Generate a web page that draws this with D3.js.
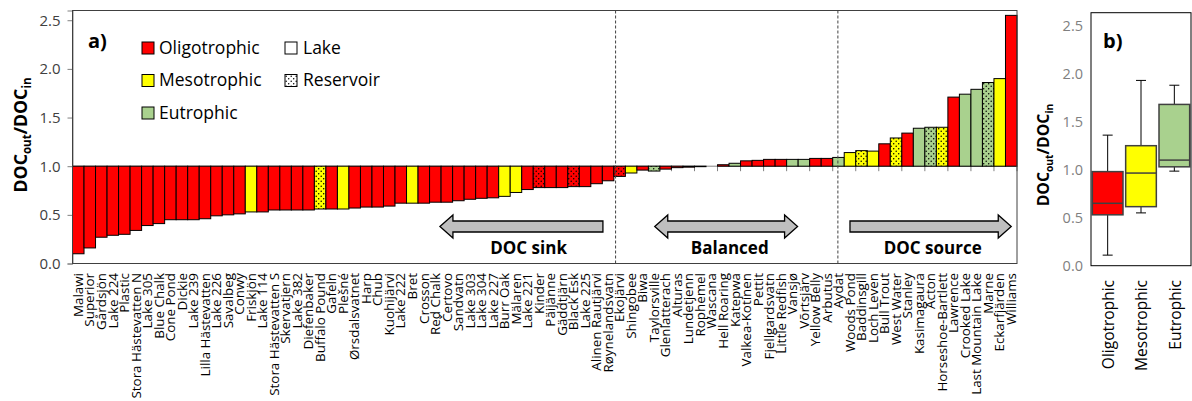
<!DOCTYPE html>
<html>
<head>
<meta charset="utf-8">
<script src="https://d3js.org/d3.v7.min.js"></script>
<style>
  body { margin: 0; background: #fff; }
  svg { display: block; font-family: "Open Sans", sans-serif; }
</style>
</head>
<body>
<div id="chart"></div>
<script>
// lakes sorted by DOC_out / DOC_in
const lakes = ["Malawi","Superior","Gårdsjön","Lake 224","Plastic","Stora Hästevatten N","Lake 305","Blue Chalk",
  "Cone Pond","Dickie","Lake 239","Lilla Hästevatten","Lake 226","Savalbeg","Conwy","Friskjön","Lake 114",
  "Stora Hästevatten S","Skervatjern","Lake 382","Diefenbaker","Buffalo Pound","Gafeln","Plešné","Ørsdalsvatnet",
  "Harp","Chub","Kuohijärvi","Lake 222","Bret","Crosson","Red Chalk","Čertovo","Sandvatn","Lake 303","Lake 304",
  "Lake 227","Burr Oak","Mälaren","Lake 221","Kinder","Päijänne","Gäddtjärn","Black Esk","Lake 225",
  "Alinen Rautjärvi","Røynelandsvatn","Ekojärvi","Shingobee","Biwa","Taylorsville","Glenlatterach","Alturas",
  "Lundetjenn","Rophemel","Wascana","Hell Roaring","Katepwa","Valkea-Kotinen","Pettit","Fjellgardsvatn",
  "Little Redfish","Vansjø","Võrtsjärv","Yellow Belly","Arbutus","Aydat","Woods Pond","Baddinsgill","Loch Leven",
  "Bull Trout","West Water","Stanley","Kasimagaura","Acton","Horseshoe-Bartlett","Lawrence","Crooked Lake",
  "Last Mountain Lake","Marne","Eckarfjärden","Williams"];

const ratio = [0.10,0.16,0.27,0.29,0.30,0.34,0.39,0.41,0.45,0.45,
  0.45,0.46,0.49,0.50,0.51,0.53,0.53,0.55,0.55,0.55,
  0.55,0.56,0.56,0.56,0.57,0.58,0.58,0.59,0.62,0.62,
  0.62,0.63,0.63,0.645,0.66,0.67,0.675,0.69,0.73,0.76,
  0.78,0.78,0.78,0.79,0.79,0.82,0.85,0.895,0.93,0.96,
  0.95,0.97,0.985,0.99,0.995,1.0,1.015,1.03,1.055,1.06,
  1.07,1.07,1.07,1.07,1.08,1.08,1.09,1.14,1.16,1.155,
  1.23,1.29,1.34,1.39,1.40,1.40,1.71,1.74,1.79,1.86,1.90,2.55];

// O = oligotrophic, M = mesotrophic, E = eutrophic
const trophic = "OOOOOOOOOOOOOOO M OOOOO M O M OOOOO M OOOOOOO MM OOOOOOOOO M O E OOOOOO E OOOO EE OO E MMM O M O EE M O EEE M O"
  .replace(/ /g, "").split("");

const reservoirs = ["Buffalo Pound","Kinder","Black Esk","Ekojärvi","Taylorsville","Baddinsgill","West Water",
  "Acton","Horseshoe-Bartlett","Marne"];

const yTicks = [0, 0.5, 1.0, 1.5, 2.0, 2.5];

// panel b box plot stats
const boxCats = ["Oligotrophic","Mesotrophic","Eutrophic"];
const boxMin = [0.11, 0.55, 0.985];
const boxQ1  = [0.53, 0.615, 1.03];
const boxMed = [0.65, 0.965, 1.10];
const boxQ3  = [0.98, 1.25, 1.68];
const boxMax = [1.36, 1.93, 1.88];

// annotations (positions in category units)
const arrowLabels = ["DOC sink","Balanced","DOC source"];
const arrowFrom = [31.9, 50.55, 67.5];
const arrowTo   = [46.05, 62.95, 81.5];
const arrowDir  = ["left","both","right"];
const arrowTextAt = [39.6, 57.06, 74.68];
const dividers = [47.15, 66.45];

const colors = { O: "#ff0000", M: "#ffff00", E: "#a9d18e" };
const legendItems = [["O","Oligotrophic"],["M","Mesotrophic"],["E","Eutrophic"]];

const W = 1192, H = 401;
const svg = d3.select("#chart").append("svg").attr("width", W).attr("height", H);

const defs = svg.append("defs");
function dotPattern(id, fill) {
  const p = defs.append("pattern").attr("id", id)
    .attr("patternUnits", "userSpaceOnUse").attr("width", 5).attr("height", 5);
  p.append("rect").attr("width", 5).attr("height", 5).attr("fill", fill);
  p.append("circle").attr("cx", 1.2).attr("cy", 1.2).attr("r", 0.75).attr("fill", "#000");
  p.append("circle").attr("cx", 3.7).attr("cy", 3.7).attr("r", 0.75).attr("fill", "#000");
}
Object.entries(colors).forEach(([k, c]) => dotPattern("dot" + k, c));
dotPattern("dotW", "#fff");

// ---------- panel a ----------
const A = { l: 72.5, r: 1017, t: 10.5, b: 263.5 };
const x = d3.scaleBand().domain(lakes).range([A.l, A.r]).padding(0);
const y = d3.scaleLinear().domain([0, 2.6]).range([A.b, A.t]);
const ux = u => A.l + u * x.step();

// y axis
const yAx = svg.append("g").attr("transform", `translate(${A.l},0)`)
  .call(d3.axisLeft(y).tickValues(yTicks).tickFormat(d3.format(".1f")).tickSize(5).tickPadding(7));
yAx.select(".domain").attr("stroke", "#808080");
yAx.selectAll(".tick line").attr("stroke", "#808080");
yAx.selectAll("text").attr("font-size", 15).attr("fill", "#404040").attr("font-family", "Open Sans");

// category ticks along the 1.0 line, every second category
svg.append("g").selectAll("line").data(d3.range(0, lakes.length + 1, 2)).join("line")
  .attr("x1", d => ux(d)).attr("x2", d => ux(d))
  .attr("y1", y(1)).attr("y2", y(1) + 5).attr("stroke", "#808080");
svg.append("line").attr("x1", A.l).attr("x2", A.r).attr("y1", y(1)).attr("y2", y(1)).attr("stroke", "#808080");

// bars from 1.0
svg.append("g").selectAll("rect").data(lakes).join("rect")
  .attr("x", d => x(d))
  .attr("width", x.bandwidth())
  .attr("y", (d, i) => y(Math.max(1, ratio[i])))
  .attr("height", (d, i) => Math.abs(y(ratio[i]) - y(1)))
  .attr("fill", (d, i) => reservoirs.includes(d) ? `url(#dot${trophic[i]})` : colors[trophic[i]])
  .attr("stroke", "#000").attr("stroke-width", 1);

// x labels
svg.append("g").selectAll("text").data(lakes).join("text")
  .attr("transform", d => `translate(${x(d) + x.bandwidth() / 2},273) rotate(-90)`)
  .attr("text-anchor", "end").attr("dy", "0.35em")
  .attr("font-size", 13.4).attr("fill", "#000")
  .text(d => d);

// dividers
svg.append("g").selectAll("line").data(dividers).join("line")
  .attr("x1", d => ux(d)).attr("x2", d => ux(d))
  .attr("y1", A.t).attr("y2", A.b)
  .attr("stroke", "#404040").attr("stroke-width", 1).attr("stroke-dasharray", "3,2");

// arrows
function arrowPath(x0, x1, yc, dir) {
  const h = 5.5, Hh = 11.5, L = 13;
  const p = [];
  if (dir === "left" || dir === "both") {
    p.push([x0, yc], [x0 + L, yc - Hh], [x0 + L, yc - h]);
  } else {
    p.push([x0, yc - h]);
  }
  if (dir === "right" || dir === "both") {
    p.push([x1 - L, yc - h], [x1 - L, yc - Hh], [x1, yc], [x1 - L, yc + Hh], [x1 - L, yc + h]);
  } else {
    p.push([x1, yc - h], [x1, yc + h]);
  }
  if (dir === "left" || dir === "both") {
    p.push([x0 + L, yc + h], [x0 + L, yc + Hh]);
  } else {
    p.push([x0, yc + h]);
  }
  return "M" + p.map(q => q.join(",")).join("L") + "Z";
}
const arrowY = y(0.38);
svg.append("g").selectAll("path").data(arrowLabels).join("path")
  .attr("d", (d, i) => arrowPath(ux(arrowFrom[i]), ux(arrowTo[i]), arrowY, arrowDir[i]))
  .attr("fill", "#bfbfbf").attr("stroke", "#000").attr("stroke-width", 1.3);
svg.append("g").selectAll("text").data(arrowLabels).join("text")
  .attr("x", (d, i) => ux(arrowTextAt[i])).attr("y", y(0.1))
  .attr("text-anchor", "middle").attr("font-size", 17).attr("font-weight", "bold")
  .text(d => d);

// frame
svg.append("rect").attr("x", A.l).attr("y", A.t).attr("width", A.r - A.l).attr("height", A.b - A.t)
  .attr("fill", "none").attr("stroke", "#404040").attr("stroke-width", 1);

// panel label + legend
svg.append("text").attr("x", 88).attr("y", 48).attr("font-size", 20).attr("font-weight", "bold").text("a)");
const leg = svg.append("g");
legendItems.forEach(([k, name], i) => {
  leg.append("rect").attr("x", 142).attr("y", 42 + i * 32.5).attr("width", 12).attr("height", 12)
    .attr("fill", colors[k]).attr("stroke", "#000");
  leg.append("text").attr("x", 159).attr("y", 53.5 + i * 32.5).attr("font-size", 17.5).text(name);
});
[["#fff", "Lake"], ["url(#dotW)", "Reservoir"]].forEach(([f, name], i) => {
  leg.append("rect").attr("x", 285).attr("y", 42 + i * 32.5).attr("width", 12).attr("height", 12)
    .attr("fill", f).attr("stroke", "#000");
  leg.append("text").attr("x", 303).attr("y", 53.5 + i * 32.5).attr("font-size", 17.5).text(name);
});

// y titles
function yTitle(tx, ty, fs) {
  const t = svg.append("text").attr("transform", `translate(${tx},${ty}) rotate(-90)`)
    .attr("text-anchor", "middle").attr("font-weight", "bold").attr("font-size", fs);
  t.append("tspan").text("DOC");
  t.append("tspan").attr("font-size", fs * 0.65).attr("dy", fs * 0.25).text("out");
  t.append("tspan").attr("dy", -fs * 0.25).text("/DOC");
  t.append("tspan").attr("font-size", fs * 0.65).attr("dy", fs * 0.25).text("in");
}
yTitle(27, 135, 17.7);

// ---------- panel b ----------
const B = { l: 1091, r: 1191, t: 12.7, b: 265.7 };
const xb = d3.scaleBand().domain(boxCats).range([B.l, B.r]).paddingInner(0.08).paddingOuter(0.04);
const yb = d3.scaleLinear().domain([0, 2.5]).range([B.b, 25.7]);

const ybAx = svg.append("g").attr("transform", `translate(${B.l},0)`)
  .call(d3.axisLeft(yb).tickValues(yTicks).tickFormat(d3.format(".1f")).tickSize(0).tickPadding(8));
ybAx.select(".domain").remove();
ybAx.selectAll("text").attr("font-size", 14.5).attr("fill", "#7f7f7f").attr("font-family", "Open Sans");

const bx = svg.append("g");
boxCats.forEach((c, i) => {
  const cx = xb(c) + xb.bandwidth() / 2;
  const g = bx.append("g");
  g.append("line").attr("x1", cx).attr("x2", cx).attr("y1", yb(boxMin[i])).attr("y2", yb(boxQ1[i])).attr("stroke", "#000");
  g.append("line").attr("x1", cx).attr("x2", cx).attr("y1", yb(boxQ3[i])).attr("y2", yb(boxMax[i])).attr("stroke", "#000");
  [boxMin[i], boxMax[i]].forEach(v => g.append("line").attr("x1", cx - 5).attr("x2", cx + 5)
    .attr("y1", yb(v)).attr("y2", yb(v)).attr("stroke", "#000"));
  g.append("rect").attr("x", xb(c)).attr("width", xb.bandwidth())
    .attr("y", yb(boxQ3[i])).attr("height", yb(boxQ1[i]) - yb(boxQ3[i]))
    .attr("fill", colors[["O","M","E"][i]]).attr("stroke", "#404040").attr("stroke-width", 1.5);
  g.append("line").attr("x1", xb(c)).attr("x2", xb(c) + xb.bandwidth())
    .attr("y1", yb(boxMed[i])).attr("y2", yb(boxMed[i])).attr("stroke", "#404040").attr("stroke-width", 1.5);
});

svg.append("g").selectAll("text").data(boxCats).join("text")
  .attr("transform", d => `translate(${xb(d) + xb.bandwidth() / 2 + 1},280) rotate(-90)`)
  .attr("text-anchor", "end").attr("dy", "0.35em").attr("font-size", 15.5).text(d => d);

svg.append("rect").attr("x", B.l).attr("y", B.t).attr("width", B.r - B.l).attr("height", B.b - B.t)
  .attr("fill", "none").attr("stroke", "#000").attr("stroke-width", 1);
svg.append("text").attr("x", 1103).attr("y", 48).attr("font-size", 20).attr("font-weight", "bold").text("b)");
yTitle(1049, 155, 15.8);
</script>
</body>
</html>
